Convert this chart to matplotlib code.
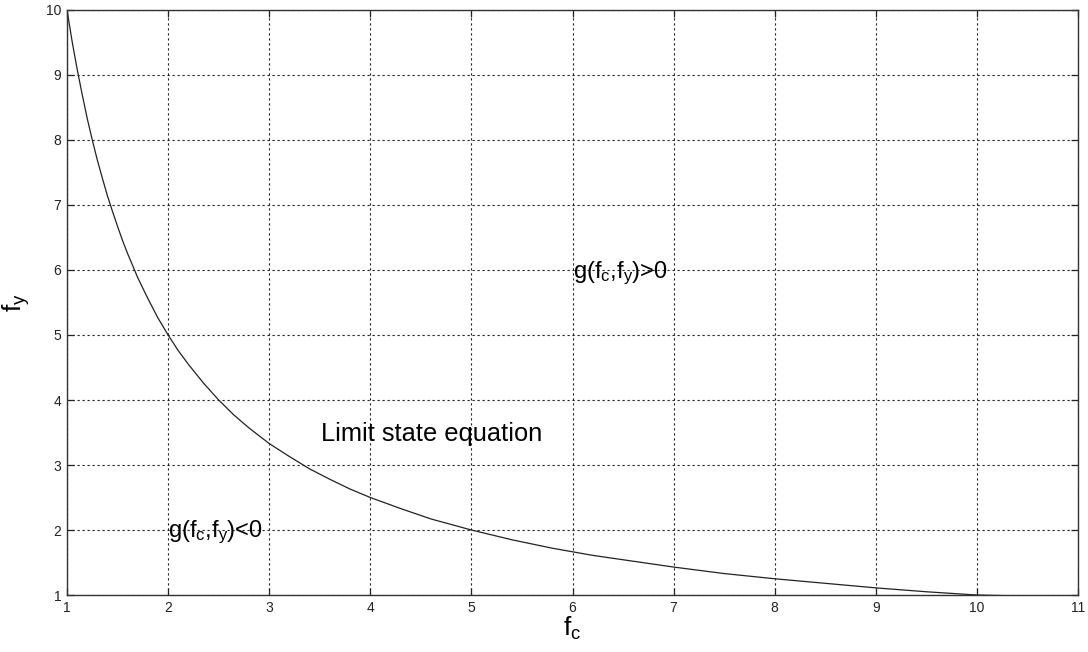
import numpy as np
import matplotlib.pyplot as plt

plt.rcParams['font.family'] = ['Liberation Sans', 'DejaVu Sans']
plt.rcParams['mathtext.default'] = 'regular'

# puntos de la curva del estado limite (fc, fy)
fc = [1.0, 1.05, 1.1, 1.15, 1.2, 1.25, 1.3, 1.35, 1.4, 1.45, 1.5, 1.55, 1.6,
      1.7, 1.8, 1.9, 2.0, 2.1, 2.2, 2.35, 2.5, 2.65, 2.8, 3.0, 3.2, 3.4,
      3.6, 3.8, 4.0, 4.3, 4.6, 5.0, 5.4, 5.8, 6.2, 6.6, 7.0, 7.5, 8.0,
      8.5, 9.0, 9.5, 10.0, 10.3]
fy = [10.0, 9.52, 9.09, 8.70, 8.33, 8.0, 7.69, 7.41, 7.14, 6.90, 6.67, 6.45, 6.25,
      5.88, 5.56, 5.26, 5.0, 4.76, 4.55, 4.26, 4.0, 3.77, 3.57, 3.33, 3.13, 2.94,
      2.78, 2.63, 2.5, 2.33, 2.17, 2.0, 1.85, 1.72, 1.61, 1.52, 1.43, 1.33, 1.25,
      1.18, 1.11, 1.05, 1.0, 0.99]

x_ticks = list(range(1, 12))
y_ticks = list(range(1, 11))

fig = plt.figure(figsize=(10.88, 6.52), dpi=100)
ax = fig.add_axes([0.0616, 0.0874, 0.9292, 0.8973])

ax.plot(fc, fy, color='#222222', linewidth=0.9)

ax.set_xlim(1, 11)
ax.set_ylim(1, 10)
ax.set_xticks(x_ticks)
ax.set_yticks(y_ticks)
ax.grid(True, color='#222222', linestyle=(0, (2, 2.5)), linewidth=0.8)
ax.tick_params(direction='in', top=True, right=True, length=5, width=0.9,
               labelsize=10, colors='#222222', pad=4)
for s in ax.spines.values():
    s.set_color('#333333')
    s.set_linewidth(1.0)

ax.set_xlabel('f$_c$', fontsize=19, labelpad=0)
ax.set_ylabel('f$_y$', fontsize=19, labelpad=10)

ax.text(6.0, 5.88, 'g(f$_c$,f$_y$)>0', fontsize=17, va='baseline')
ax.text(2.0, 1.89, 'g(f$_c$,f$_y$)<0', fontsize=17, va='baseline')
ax.text(3.51, 3.37, 'Limit state equation', fontsize=18.3, va='baseline')

fig.savefig('out.png', dpi=100)
